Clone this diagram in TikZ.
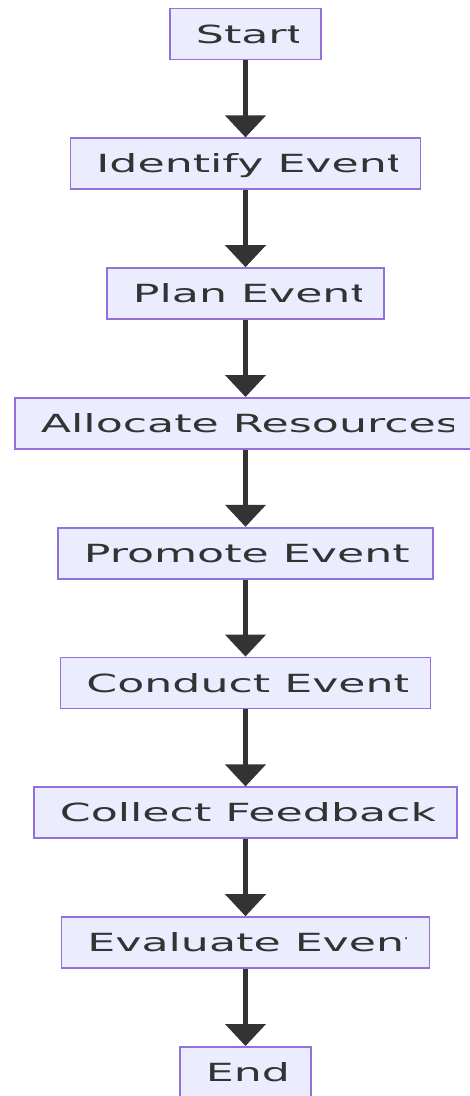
\documentclass[tikz,border=0pt]{standalone}
\usepackage{fontspec}
\usetikzlibrary{positioning,arrows.meta}
\newfontfamily\boxfont[FakeStretch=1.77]{DejaVu Sans}
\newcommand{\labelfont}{\boxfont\fontsize{25pt}{30pt}\selectfont}
\definecolor{boxfill}{HTML}{ECECFF}
\definecolor{boxline}{HTML}{9370DB}
\definecolor{flowgray}{HTML}{333333}
\tikzset{
  stepbox/.style 2 args={draw=boxline, fill=boxfill, line width=1.8pt,
    minimum width=#1, minimum height=51pt, inner sep=0pt,
    path picture={
      \clip ([xshift=25pt]path picture bounding box.south west) rectangle ([xshift=-23pt]path picture bounding box.north east);
      \node[anchor=base west, inner sep=0pt, minimum width=0pt, minimum height=0pt, draw=none, fill=none,
        font=\labelfont, text=flowgray] at ([xshift=25pt,yshift=-9pt]path picture bounding box.west) {#2};
    }},
  flow/.style={draw=flowgray, line width=4.5pt, -{Triangle[length=22pt,width=40pt]}},
}
\begin{document}
\begin{tikzpicture}[x=1pt,y=1pt,node distance=77pt]
    \useasboundingbox (0,0) rectangle (470,-1096);
    \node[stepbox={151pt}{Start}] (start) at (245.5,-34) {};
    \node[stepbox={350pt}{Identify Event}, below=of start] (identify) {};
    \node[stepbox={277pt}{Plan Event}, below=of identify] (plan) {};
    \node[stepbox={461pt}{Allocate Resources}, below=of plan] (allocate) {};
    \node[stepbox={375pt}{Promote Event}, below=of allocate] (promote) {};
    \node[stepbox={370pt}{Conduct Event}, below=of promote] (conduct) {};
    \node[stepbox={423pt}{Collect Feedback}, below=of conduct] (collect) {};
    \node[stepbox={368pt}{Evaluate Event}, below=of collect] (evaluate) {};
    \node[stepbox={131pt}{End}, below=of evaluate] (end) {};
    \draw[flow] (start) -- (identify);
    \draw[flow] (identify) -- (plan);
    \draw[flow] (plan) -- (allocate);
    \draw[flow] (allocate) -- (promote);
    \draw[flow] (promote) -- (conduct);
    \draw[flow] (conduct) -- (collect);
    \draw[flow] (collect) -- (evaluate);
    \draw[flow] (evaluate) -- (end);
\end{tikzpicture}
\end{document}
